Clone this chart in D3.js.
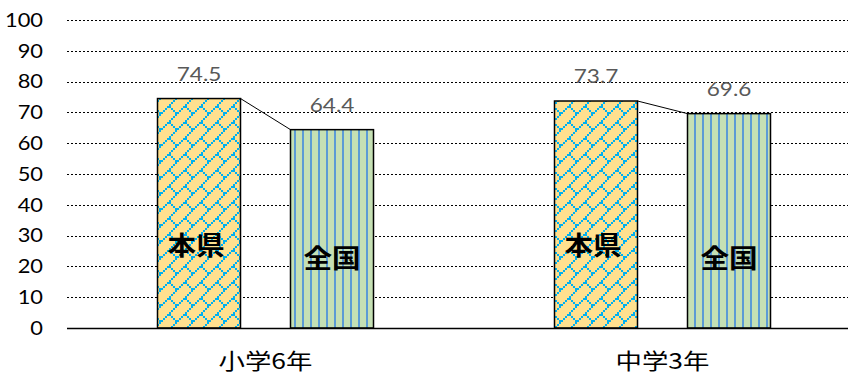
<!DOCTYPE html>
<html><head><meta charset="utf-8">
<script src="https://cdn.jsdelivr.net/npm/d3@7"></script>
<style>body{margin:0;background:#fff}svg{display:block}</style>
</head><body>
<svg id="c" width="848" height="375"></svg>
<script>
const categories = ["小学6年", "中学3年"];
const seriesNames = ["本県", "全国"];
const valuesKen = [74.5, 73.7];
const valuesZenkoku = [64.4, 69.6];
const yTicks = [0, 10, 20, 30, 40, 50, 60, 70, 80, 90, 100];

(function(){
const svg = d3.select("#c");
const W = 848;
const plotLeft = 67, plotRight = 861, plotTop = 20, plotBottom = 328;

const x = d3.scaleBand().domain(categories).range([plotLeft, plotRight]).paddingInner(0).paddingOuter(0);
const y = d3.scaleLinear().domain([0, 100]).range([plotBottom, plotTop]);
const barW = 83, gap = 50, margin = (x.bandwidth() - 2*barW - gap)/2;
const bx = (cat, si) => x(cat) + margin + si*(barW + gap);

const defs = svg.append("defs");
const px = 2;
const brick = defs.append("pattern").attr("id","brick").attr("patternUnits","userSpaceOnUse")
  .attr("width",8*px).attr("height",8*px).attr("x",1).attr("y",2);
brick.append("rect").attr("width",8*px).attr("height",8*px).attr("fill","#FFE08F");
const bits = [0x01,0x02,0x04,0x08,0x18,0x24,0x42,0x81];
bits.forEach((b,r)=>{ for(let c=0;c<8;c++){ if(b & (0x80>>c)) brick.append("rect").attr("x",c*px).attr("y",r*px).attr("width",px).attr("height",px).attr("fill","#00B0F0"); }});
const vert = defs.append("pattern").attr("id","vert").attr("patternUnits","userSpaceOnUse")
  .attr("width",8).attr("height",8).attr("x",1);
vert.append("rect").attr("width",8).attr("height",8).attr("fill","#C5E0B4");
vert.append("rect").attr("x",5).attr("width",2).attr("height",8).attr("fill","#5B9BD5");

svg.append("g").selectAll("line").data(yTicks.filter(d=>d>0)).join("line")
  .attr("x1",plotLeft).attr("x2",W).attr("y1",d=>Math.round(y(d))+0.5).attr("y2",d=>Math.round(y(d))+0.5)
  .attr("stroke","#000").attr("stroke-width",1).attr("stroke-dasharray","2,2");

svg.append("g").selectAll("text").data(yTicks).join("text")
  .attr("transform",d=>`translate(43,${y(d)}) scale(1.15,1)`).attr("dy","0.36em").attr("text-anchor","end")
  .attr("font-family","Lato, 'Open Sans', sans-serif").attr("font-size",19).attr("fill","#000")
  .text(d=>d);

const series = [
  {name: seriesNames[0], vals: valuesKen, fill: "url(#brick)", labelV: 27},
  {name: seriesNames[1], vals: valuesZenkoku, fill: "url(#vert)", labelV: 23}
];

categories.forEach((cat,i)=>{
  svg.append("line")
    .attr("x1",bx(cat,0)+barW).attr("y1",y(valuesKen[i]))
    .attr("x2",bx(cat,1)).attr("y2",y(valuesZenkoku[i]))
    .attr("stroke","#000").attr("stroke-width",1);
});

series.forEach((s,si)=>{
  const g = svg.append("g");
  g.selectAll("rect").data(categories).join("rect")
    .attr("x",(c)=>bx(c,si)).attr("y",(c,i)=>y(s.vals[i]))
    .attr("width",barW).attr("height",(c,i)=>y(0)-y(s.vals[i]))
    .attr("fill",s.fill).attr("stroke","#000").attr("stroke-width",1.5);
  g.selectAll("text.v").data(categories).join("text").attr("class","v")
    .attr("transform",(c,i)=>`translate(${bx(c,si)+barW/2},${y(s.vals[i])-18}) scale(1.13,1)`)
    .attr("text-anchor","middle").attr("font-family","Lato, sans-serif").attr("font-size",20)
    .attr("fill","#595959").text((c,i)=>s.vals[i].toFixed(1));
  g.selectAll("text.n").data(categories).join("text").attr("class","n")
    .attr("transform",c=>`translate(${bx(c,si)+barW/2 - (si===0?3:0)},${y(s.labelV)+1}) scale(1.1,1)`).attr("dy","0.36em")
    .attr("text-anchor","middle").attr("font-family","'Noto Sans CJK JP', sans-serif")
    .attr("font-weight","bold").attr("font-size",26).attr("fill","#000").text(s.name);
});

svg.append("line").attr("x1",plotLeft).attr("x2",W).attr("y1",plotBottom+0.5).attr("y2",plotBottom+0.5)
  .attr("stroke","#000").attr("stroke-width",1.5);

svg.append("g").selectAll("text").data(categories).join("text")
  .attr("transform",c=>`translate(${x(c)+x.bandwidth()/2},369) scale(1.2,1)`)
  .attr("text-anchor","middle").attr("font-family","'Noto Sans CJK JP', sans-serif")
  .attr("font-size",22).attr("fill","#000").text(c=>c);
})();
</script>
</body></html>
